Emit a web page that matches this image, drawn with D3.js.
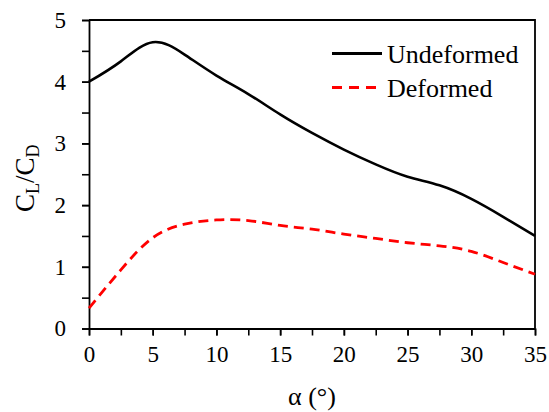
<!DOCTYPE html>
<html>
<head>
<meta charset="utf-8">
<script src="https://cdn.jsdelivr.net/npm/d3@7"></script>
<style>
  body { margin: 0; background: #fff; }
  svg text { font-family: "Liberation Serif", "Times New Roman", Times, "DejaVu Serif", serif; fill: #000; }
</style>
</head>
<body>
<div id="root"></div>
<script>
// angle of attack (deg) and lift/drag ratio
var alphaUndeformed = [0, 2.5, 5, 7.5, 10, 12.5, 15, 17.5, 20, 22.5, 25, 27.5, 30, 32.5, 35];
var ratioUndeformed = [4.0, 4.33, 4.64, 4.44, 4.1, 3.8, 3.47, 3.17, 2.9, 2.66, 2.46, 2.32, 2.1, 1.81, 1.5];

var alphaDeformed = [0, 2.5, 5, 7.5, 10, 12.5, 15, 17.5, 20, 22.5, 25, 27.5, 30, 32.5, 35];
var ratioDeformed = [0.33, 0.95, 1.47, 1.69, 1.76, 1.75, 1.67, 1.61, 1.53, 1.46, 1.39, 1.34, 1.25, 1.07, 0.88];

var xTicks = [0, 5, 10, 15, 20, 25, 30, 35];
var yTicks = [0, 1, 2, 3, 4, 5];
var legendNames = ["Undeformed", "Deformed"];

var serif = "'Liberation Serif', 'Times New Roman', Times, 'DejaVu Serif', serif";
var width = 549, height = 412;
var margin = {top: 20, right: 14, bottom: 83.5, left: 89};

var svg = d3.select("#root")
            .append("svg")
            .attr("width", width)
            .attr("height", height);

var x = d3.scaleLinear().domain([0, 35]).range([margin.left, width - margin.right]);
var y = d3.scaleLinear().domain([0, 5]).range([height - margin.bottom, margin.top]);

// minor ticks (half steps) drawn first, no labels
var xMinor = d3.range(0, 35.01, 2.5);
var yMinor = d3.range(0, 5.01, 0.5);

svg.append("g")
   .attr("transform", "translate(0," + y(0) + ")")
   .call(d3.axisBottom(x).tickValues(xMinor).tickSize(7).tickFormat(""))
   .call(function(g){ g.select(".domain").remove(); });

svg.append("g")
   .attr("transform", "translate(" + x(0) + ",0)")
   .call(d3.axisLeft(y).tickValues(yMinor).tickSize(7).tickFormat(""))
   .call(function(g){ g.select(".domain").remove(); });

// major axes with labels
var xAxis = svg.append("g")
   .attr("transform", "translate(0," + y(0) + ")")
   .call(d3.axisBottom(x).tickValues(xTicks).tickSize(7).tickSizeOuter(0).tickPadding(10));

var yAxis = svg.append("g")
   .attr("transform", "translate(" + x(0) + ",0)")
   .call(d3.axisLeft(y).tickValues(yTicks).tickFormat(d3.format("d")).tickSize(7).tickSizeOuter(0).tickPadding(16));

svg.selectAll("g").attr("font-family", serif).attr("font-size", 23);
svg.selectAll(".domain").attr("stroke-width", 1.8);
svg.selectAll(".tick line").attr("stroke-width", 1.6);

// frame: top and right edges
svg.append("path")
   .attr("d", "M" + x(0) + "," + y(5) + "H" + x(35) + "V" + y(0))
   .attr("fill", "none")
   .attr("stroke", "#000")
   .attr("stroke-width", 1.8);

var line = d3.line()
   .x(function(d){ return x(d[0]); })
   .y(function(d){ return y(d[1]); })
   .curve(d3.curveNatural);

svg.append("path")
   .datum(d3.zip(alphaUndeformed, ratioUndeformed))
   .attr("d", line)
   .attr("fill", "none")
   .attr("stroke", "#000")
   .attr("stroke-width", 2.6);

svg.append("path")
   .datum(d3.zip(alphaDeformed, ratioDeformed))
   .attr("d", line)
   .attr("fill", "none")
   .attr("stroke", "#ff0000")
   .attr("stroke-width", 2.8)
   .attr("stroke-dasharray", "10,6");

// legend
var legendStyles = [{stroke: "#000", dash: null}, {stroke: "#ff0000", dash: "10,7"}];
var lg = svg.selectAll(".legend")
   .data(legendNames)
   .enter()
   .append("g")
   .attr("class", "legend")
   .attr("transform", function(d, i){
     return "translate(332," + (53.5 + i * 34) + ")";
   });

lg.append("line")
  .attr("x1", 0).attr("x2", 50).attr("y1", 0).attr("y2", 0)
  .attr("stroke", function(d, i){ return legendStyles[i].stroke; })
  .attr("stroke-width", 2.8)
  .attr("stroke-dasharray", function(d, i){ return legendStyles[i].dash; });

lg.append("text")
  .attr("x", 55)
  .attr("y", 9)
  .attr("font-family", serif)
  .attr("font-size", 26)
  .text(function(d){ return d; });

// axis titles
svg.append("text")
   .attr("x", (x(0) + x(35)) / 2)
   .attr("y", 405)
   .attr("text-anchor", "middle")
   .attr("font-family", serif)
   .attr("font-size", 26)
   .text("α (°)");

var yt = svg.append("text")
   .attr("transform", "translate(34," + ((y(0) + y(5)) / 2 + 4) + ") rotate(-90)")
   .attr("text-anchor", "middle")
   .attr("font-family", serif)
   .attr("font-size", 27);
yt.append("tspan").text("C");
yt.append("tspan").attr("font-size", 18).attr("dy", 5).text("L");
yt.append("tspan").attr("dy", -5).text("/C");
yt.append("tspan").attr("font-size", 18).attr("dy", 5).text("D");
</script>
</body>
</html>
